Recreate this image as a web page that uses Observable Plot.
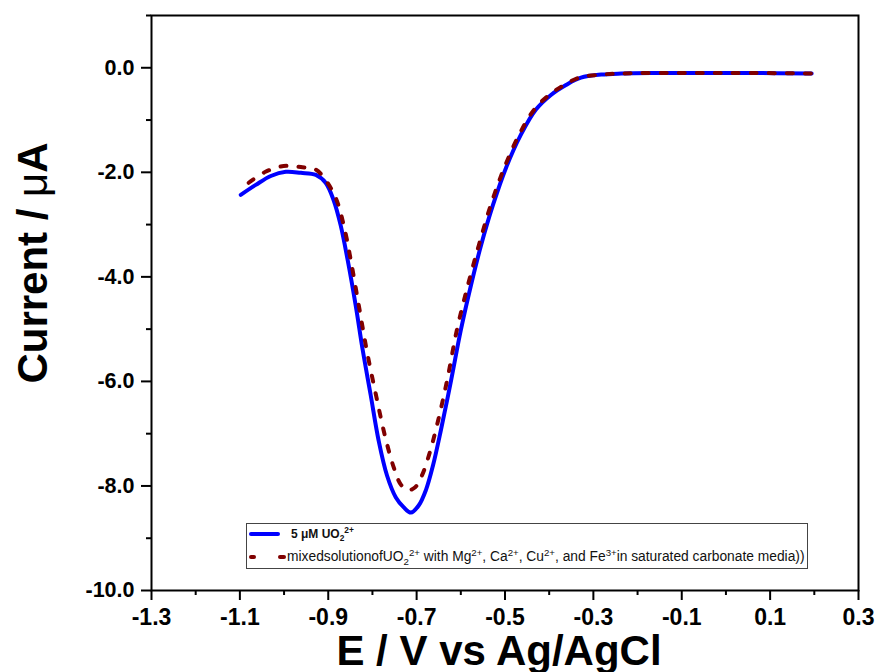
<!DOCTYPE html>
<html>
<head>
<meta charset="utf-8">
<script src="https://cdn.jsdelivr.net/npm/d3@7"></script>
<script src="https://cdn.jsdelivr.net/npm/@observablehq/plot@0.6"></script>
<style>
  body { margin: 0; background: white; }
  #wrap { position: relative; width: 878px; height: 672px; }
  #legend { position: absolute; left: 246px; top: 523px; width: 560px; height: 44px;
    border: 1px solid #444; background: white; overflow: hidden; white-space: nowrap;
    font-family: 'Liberation Sans', Arial, sans-serif; color: #111; }
  #legend .t { position: absolute; }
  #legend .sub { font-size: 0.7em; vertical-align: -0.35em; }
  #legend .sup { font-size: 0.7em; vertical-align: 0.55em; }
  #legend .sw { position: absolute; border-radius: 2px; }
</style>
</head>
<body>
<div id="wrap"></div>
<script>
// ---- data ----
const xTicks = [-1.3, -1.1, -0.9, -0.7, -0.5, -0.3, -0.1, 0.1, 0.3];
const xMinor = [-1.2, -1.0, -0.8, -0.6, -0.4, -0.2, 0.0, 0.2];
const yTicks = [0, -2, -4, -6, -8, -10];
const yMinor = [1, -1, -3, -5, -7, -9];

const xLabel = "E / V vs Ag/AgCl";
const yLabel = "Current / μA";

// 5 µM UO2 2+ (solid blue)
const blueE = [-1.098,-1.064,-1.030,-0.996,-0.962,-0.928,-0.906,-0.888,-0.872,-0.856,
               -0.838,-0.822,-0.804,-0.786,-0.767,-0.747,-0.729,-0.713,-0.695,-0.679,
               -0.663,-0.645,-0.622,-0.600,-0.577,-0.554,-0.527,-0.498,-0.464,-0.430,
               -0.396,-0.362,-0.328,-0.282,-0.237,-0.169,-0.056,0.058,0.194];
const blueI = [-2.43,-2.24,-2.07,-1.99,-2.01,-2.05,-2.20,-2.53,-3.01,-3.68,
               -4.54,-5.40,-6.26,-7.13,-7.80,-8.22,-8.41,-8.51,-8.37,-8.08,
               -7.61,-6.93,-5.98,-5.02,-4.16,-3.39,-2.62,-1.92,-1.28,-0.80,
               -0.52,-0.33,-0.19,-0.13,-0.11,-0.10,-0.10,-0.10,-0.11];

// mixed solution (dashed maroon)
const mixE = [-1.080,-1.042,-1.001,-0.962,-0.928,-0.906,-0.883,-0.865,-0.849,-0.831,
              -0.813,-0.792,-0.772,-0.752,-0.736,-0.720,-0.704,-0.688,-0.672,-0.654,
              -0.631,-0.609,-0.584,-0.559,-0.532,-0.502,-0.468,-0.434,-0.400,-0.366,
              -0.332,-0.282,-0.237,-0.169,-0.056,0.058,0.198];
const mixI = [-2.20,-1.99,-1.88,-1.90,-1.95,-2.15,-2.49,-3.01,-3.68,-4.54,
              -5.40,-6.26,-7.03,-7.64,-7.97,-8.08,-8.03,-7.80,-7.41,-6.84,
              -5.98,-5.02,-4.16,-3.39,-2.62,-1.92,-1.28,-0.80,-0.52,-0.33,
              -0.19,-0.13,-0.11,-0.10,-0.10,-0.10,-0.11];

const blueData = blueE.map((e, i) => ({E: e, I: blueI[i]}));
const mixData = mixE.map((e, i) => ({E: e, I: mixI[i]}));
const fmt = d => d.toFixed(1);

const chart = Plot.plot({
  width: 878, height: 672,
  marginLeft: 151, marginRight: 20, marginTop: 15, marginBottom: 82,
  x: {domain: [-1.3, 0.3]},
  y: {domain: [-10, 1]},
  style: {fontFamily: "'Liberation Sans', Arial, sans-serif", fontWeight: "bold", background: "white", color: "black"},
  marks: [
    Plot.axisX({ticks: xMinor, tickSize: 5, tickFormat: () => "", label: null, strokeWidth: 2}),
    Plot.axisX({ticks: xTicks, tickSize: 10, tickPadding: 8, tickFormat: fmt, fontSize: 23, label: null, strokeWidth: 2}),
    Plot.axisY({ticks: yMinor, tickSize: 5, tickFormat: () => "", label: null, strokeWidth: 2}),
    Plot.axisY({ticks: yTicks, tickSize: 10, tickPadding: 7, tickFormat: fmt, fontSize: 21.5, label: null, strokeWidth: 2}),
    Plot.frame({strokeWidth: 2}),
    Plot.line(blueData, {x: "E", y: "I", stroke: "#0000ff", strokeWidth: 4, curve: "catmull-rom"}),
    Plot.line(mixData, {x: "E", y: "I", stroke: "#800000", strokeWidth: 4, curve: "catmull-rom",
      strokeDasharray: "6,12", strokeLinecap: "round"}),
    Plot.text([xLabel], {text: d => d, frameAnchor: "bottom", textAnchor: "middle", dx: -6, dy: 74, fontSize: 42, fontWeight: "bold"}),
    Plot.text([yLabel], {text: d => d, frameAnchor: "left", textAnchor: "middle", rotate: -90, dx: -118, dy: -40, fontSize: 42, fontWeight: "bold"})
  ]
});

// thin (non-bold) mu in the y label, like the original symbol font
d3.select(chart).selectAll("text").filter(function() { return this.textContent === yLabel; })
  .each(function() {
    const t = d3.select(this);
    t.text(null);
    t.append("tspan").text("Current / ");
    t.append("tspan").attr("font-weight", "normal").text("μ");
    t.append("tspan").text("A");
  });

const wrap = document.getElementById("wrap");
wrap.appendChild(chart);

const legend = document.createElement("div");
legend.id = "legend";
legend.innerHTML = `
  <div class="sw" style="left:2px;top:8px;width:31px;height:4px;background:#0000ff"></div>
  <div class="t" style="left:44px;top:1px;font-size:12px;font-weight:bold">5 μM UO<span class="sub">2</span><span class="sup">2+</span></div>
  <div class="sw" style="left:2px;top:31px;width:7px;height:4px;background:#800000"></div>
  <div class="sw" style="left:31px;top:31px;width:8px;height:4px;background:#800000"></div>
  <div class="t" style="left:40px;top:23px;font-size:13.8px">mixedsolutionofUO<span class="sub">2</span><span class="sup">2+</span> with Mg<span class="sup">2+</span>, Ca<span class="sup">2+</span>, Cu<span class="sup">2+</span>, and Fe<span class="sup">3+</span>in saturated carbonate media))</div>
`;
wrap.appendChild(legend);
</script>
</body>
</html>
